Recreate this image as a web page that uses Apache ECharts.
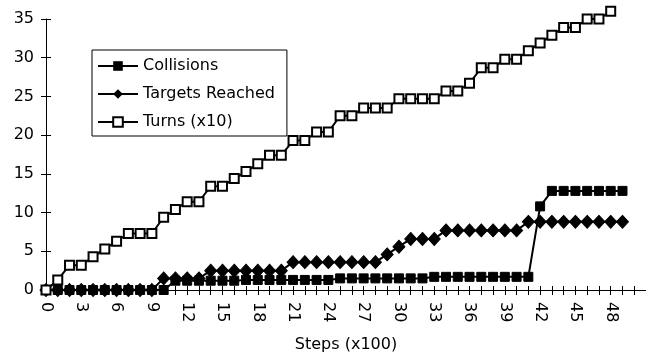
<!DOCTYPE html>
<html>
<head>
<meta charset="utf-8">
<script src="https://cdn.jsdelivr.net/npm/echarts@6/dist/echarts.min.js"></script>
<style>
  html, body { margin: 0; padding: 0; background: #fff; }
  #chart { width: 646px; height: 357px; }
</style>
</head>
<body>
<div id="chart"></div>
<script>
// steps (x100), axis runs a bit past the last sample
const steps = [];
for (let i = 0; i <= 51; i++) steps.push(String(i));

const collisions = [
  0, 0, 0, 0, 0, 0, 0, 0, 0, 0,
  0, 1.2, 1.2, 1.2, 1.2, 1.2, 1.2, 1.3, 1.3, 1.3,
  1.3, 1.3, 1.3, 1.3, 1.3, 1.5, 1.5, 1.5, 1.5, 1.5,
  1.5, 1.5, 1.5, 1.7, 1.7, 1.7, 1.7, 1.7, 1.7, 1.7,
  1.7, 1.7, 10.8, 12.8, 12.8, 12.8, 12.8, 12.8, 12.8, 12.8
];

const targets = [
  0, 0, 0, 0, 0, 0, 0, 0, 0, 0,
  1.5, 1.5, 1.5, 1.5, 2.5, 2.5, 2.5, 2.5, 2.5, 2.5,
  2.5, 3.6, 3.6, 3.6, 3.6, 3.6, 3.6, 3.6, 3.6, 4.6,
  5.6, 6.6, 6.6, 6.6, 7.7, 7.7, 7.7, 7.7, 7.7, 7.7,
  7.7, 8.8, 8.8, 8.8, 8.8, 8.8, 8.8, 8.8, 8.8, 8.8
];

const turns = [
  0, 1.3, 3.2, 3.2, 4.3, 5.3, 6.3, 7.3, 7.3, 7.3,
  9.4, 10.4, 11.4, 11.4, 13.4, 13.4, 14.4, 15.3, 16.3, 17.4,
  17.4, 19.3, 19.3, 20.4, 20.4, 22.5, 22.5, 23.5, 23.5, 23.5,
  24.7, 24.7, 24.7, 24.7, 25.7, 25.7, 26.7, 28.7, 28.7, 29.8,
  29.8, 30.9, 31.9, 32.9, 33.9, 33.9, 35.0, 35.0, 36.0
];

const chart = echarts.init(document.getElementById('chart'));
const font = 'DejaVu Sans';

chart.setOption({
  animation: false,
  backgroundColor: '#fff',
  textStyle: { fontFamily: font, color: '#000' },
  grid: { left: 46, right: 0, top: 19, bottom: 67, outerBoundsMode: 'none' },
  legend: {
    orient: 'vertical',
    left: 92,
    top: 50,
    borderColor: '#000',
    borderWidth: 1,
    padding: [8, 12, 6, 5],
    itemWidth: 40,
    itemHeight: 12,
    itemGap: 12,
    textStyle: { fontFamily: font, fontSize: 16, color: '#000' },
    data: ['Collisions', 'Targets Reached', 'Turns (x10)']
  },
  xAxis: [{
    type: 'category',
    data: steps,
    boundaryGap: false,
    name: 'Steps (x100)',
    nameLocation: 'middle',
    nameGap: 47,
    nameTextStyle: { fontFamily: font, fontSize: 16, color: '#000' },
    axisLine: { lineStyle: { color: '#000', width: 1 } },
    axisTick: { interval: 0, length: 5, lineStyle: { color: '#000' } },
    axisLabel: {
      interval: i => i % 3 === 0 && i <= 48,
      rotate: -90,
      margin: 12,
      fontFamily: font,
      fontSize: 16,
      color: '#000'
    },
    splitLine: { show: false }
  }, {
    type: 'category',
    data: steps,
    boundaryGap: false,
    position: 'bottom',
    axisLine: { show: false },
    axisTick: { interval: 0, inside: true, length: 4, lineStyle: { color: '#000' } },
    axisLabel: { show: false },
    splitLine: { show: false }
  }],
  yAxis: [{
    type: 'value',
    min: 0,
    max: 35,
    interval: 5,
    axisLine: { show: true, lineStyle: { color: '#000', width: 1 } },
    axisTick: { show: true, length: 5, lineStyle: { color: '#000' } },
    axisLabel: { margin: 12, fontFamily: font, fontSize: 16, color: '#000' },
    splitLine: { show: false }
  }, {
    type: 'value',
    min: 0,
    max: 35,
    interval: 5,
    position: 'left',
    axisLine: { show: false },
    axisTick: { show: true, inside: true, length: 5, lineStyle: { color: '#000' } },
    axisLabel: { show: false },
    splitLine: { show: false }
  }],
  series: [{
    name: 'Collisions',
    type: 'line',
    data: collisions,
    clip: false,
    symbol: 'rect',
    symbolSize: 9,
    showAllSymbol: true,
    lineStyle: { color: '#000', width: 2 },
    itemStyle: { color: '#000', borderColor: '#000' }
  }, {
    name: 'Targets Reached',
    type: 'line',
    data: targets,
    clip: false,
    symbol: 'diamond',
    symbolSize: [12, 13],
    showAllSymbol: true,
    lineStyle: { color: '#000', width: 2 },
    itemStyle: { color: '#000', borderColor: '#000' }
  }, {
    name: 'Turns (x10)',
    type: 'line',
    data: turns,
    clip: false,
    symbol: 'rect',
    symbolSize: 9,
    showAllSymbol: true,
    lineStyle: { color: '#000', width: 2 },
    itemStyle: { color: '#fff', borderColor: '#000', borderWidth: 2 }
  }]
});
</script>
</body>
</html>
